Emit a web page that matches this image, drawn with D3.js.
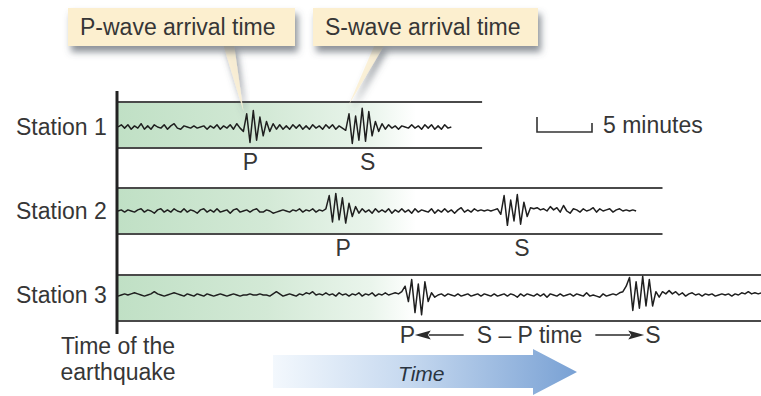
<!DOCTYPE html>
<html>
<head>
<meta charset="utf-8">
<script src="https://cdn.jsdelivr.net/npm/d3@7"></script>
<style>
  html, body { margin: 0; padding: 0; background: #fff; }
  svg { display: block; font-family: "Liberation Sans", Arial, sans-serif; }
</style>
</head>
<body>
<svg id="chart" width="761" height="396"></svg>
<script>
// ---- Data -------------------------------------------------------------
const stationNames = ["Station 1", "Station 2", "Station 3"];

// Minutes between consecutive seismogram samples
const minutesPerSample = 0.3;

// Ground-motion amplitude samples (relative units, positive = up)
const station1Trace = [
  0, 2, -1, 2, -2, 1, -1, 3, -2, 1, -2, 2, 0, -1, 2, -2, 1, 3, -1, -2,
  1, 0, -1, 1, -1, 0, 1, -2, 1, -1, 2, -2, 1, -1, 2, -2, 3, -1,
  -4, 12, -14, 15, -12, 9, -8, 5, -4,
  3, -2, 2, -2, 1, -2, 2, -1, 2, -2, 1, -2, 2, -1, 1, -2, 2, -1, 2, -2, 1, -1,
  -3, 12, -15, 10, -12, 17, -13, 14, -8, 5,
  -4, 3, -2, 2, -1, 1, -2, 1, 0, -1, 2, -1, 1, -2, 2, -1, 2, -2, 1, -2, 2, -1, 0
];

const station2Trace = [
  0, 1, -1, 1, 0, -1, 1, 2, -1, 1, 0, -2, 1, 2, -1, 1,
  -1, 2, 0, -1, 2, -1, 1, 0, -2, 1, 2, -1, 1, -1, 2, -1,
  0, 1, -2, 1, 2, -1, 0, 1, -1, 1, 2, -1, -1, 1, 0, -2,
  -1, 0, 1, 0, -1, 1, 0, 2, -1, 1, 0, 2, -1, 1, 0, 2,
  14, -10, 16, -8, 12, -11, 7, -5, 4,
  -2, 2, -1, 1, -2, 2, -1, 1, -1, 2, -2, 1, -1, 2, -1, 1,
  -2, 2, -1, 1, 0, -1, 2, -2, 1, -1, 2, -1, 1, -2, 1, 3,
  -1, 1, -1, 2, 0, 1, 0, 1, 0, 1, 2,
  -3, 14, -13, 10, -9, 15, -12, 8, -5,
  3, 2, 3, 1, 2, 0, 4, 1, 3, -1, 5, 0, -2, 2, 1, -1, 2, 0, 1, 3,
  -1, 2, 0, 1, 2, -1, 1, 2, 0, 1, 0, 1, 0
];

const station3Trace = [
  -1, 0, 1, 0, 1, 2, 1, 0, -1, 0, 1, 3, 1, 0, -1, 0, 1, 2, 1, 0,
  -1, 1, 0, -1, 1, 0, -1, 1, 0, -1, 0, 1, 0, -1, 0, 1, 0, -1, 0, 0,
  1, 0, 0, 1, 0, 0, -1, 1, 3, 1, -1, 0, 1, 0, -1, 1, 0, 2, 1, 3,
  0, 1, 0, 2, 0, 1, -1, 2, 0, 1, -1, 1, 0, 2, -1, 1, 0, 2, -1, 1,
  0, 2, 0, 1, 2, 1,
  3, 8, -6, 14, -16, 10, -18, 12, -6, 2,
  -2, 0, 1, -1, 1, 0, -1, 1, -1, 0, 1, -1, 0, 1, -1, 1, 0, -1, 1, -1,
  0, 1, -1, 1, 0, -2, 1, -1, 1, 0, -1, 1, -1, 1, -2, 1, 0, -1, 1, -1,
  0, 1, -1, 1, 0, -1, 2, -1, 0, -1, -2, 1, -1, 0, 1, 0, 2, 3,
  8, 16, -14, 12, -12, 17, -10, 14, -10, 3, -2,
  3, 1, 4, 1, 3, 0, 2, -1, 1, 2, 0, 1, -1, 1, 0, 1, -1, 0, 1, 0,
  1, -1, 1, 0, 2, 1, 3, 1, 2, 1, 2
];

// Arrival times after the earthquake (minutes)
const pArrivalMin = [11.4, 19.2, 25.8];
const sArrivalMin = [20.7, 34.8, 46.2];
// Length of each recording strip (minutes)
const stripLengthMin = [33.1, 49.5, 58.5];
const scaleBarMinutes = 5;

const traces = [station1Trace, station2Trace, station3Trace];

// ---- Layout -----------------------------------------------------------
const W = 761, H = 396;
const originX = 118;           // time of the earthquake
const stripTop = [102, 188, 275];
const stripHeight = 46;
const baselineOffset = [25, 23, 20];
const ampHalf = 22;            // px for |amp| = 20
const textColor = "#363636";
const fontSize = 23;

const svg = d3.select("#chart");
const defs = svg.append("defs");

const x = d3.scaleLinear().domain([0, 58.5]).range([originX, 761.5]);
const amp = d3.scaleLinear().domain([-20, 20]).range([ampHalf, -ampHalf]);

// Green fade behind the early part of each strip
const green = defs.append("linearGradient")
  .attr("id", "greenFade").attr("gradientUnits", "userSpaceOnUse")
  .attr("x1", originX).attr("x2", 416).attr("y1", 0).attr("y2", 0);
[[0, "#c0e0c5"], [0.5, "#d3e9d6"], [0.85, "#eaf5ec"], [1, "#ffffff"]]
  .forEach(([o, c]) => green.append("stop").attr("offset", o).attr("stop-color", c));

// Blue fade for the time arrow
const blue = defs.append("linearGradient")
  .attr("id", "blueFade").attr("x1", 0).attr("x2", 1).attr("y1", 0).attr("y2", 0);
[[0, "#f3f8fd"], [0.45, "#c5d8ef"], [1, "#79a1d4"]]
  .forEach(([o, c]) => blue.append("stop").attr("offset", o).attr("stop-color", c));

// Soft shadow for the callouts
const shadow = defs.append("filter").attr("id", "shadow")
  .attr("x", "-20%").attr("y", "-30%").attr("width", "150%").attr("height", "190%");
shadow.append("feDropShadow").attr("dx", 3).attr("dy", 6)
  .attr("stdDeviation", 3.5).attr("flood-color", "#505860").attr("flood-opacity", 0.65);

// ---- Strips -----------------------------------------------------------
const strips = svg.append("g");
stationNames.forEach((name, i) => {
  const g = strips.append("g");
  const top = stripTop[i], bot = top + stripHeight;
  const xEnd = x(stripLengthMin[i]);
  g.append("rect").attr("x", originX).attr("y", top)
    .attr("width", Math.min(416, xEnd) - originX).attr("height", stripHeight)
    .attr("fill", "url(#greenFade)");
  [top, bot].forEach(yy => g.append("line")
    .attr("x1", originX).attr("x2", xEnd).attr("y1", yy).attr("y2", yy)
    .attr("stroke", "#4a4a4a").attr("stroke-width", 1.8));
  g.append("text").attr("x", 16).attr("y", top + baselineOffset[i] + 8)
    .attr("font-size", fontSize).attr("fill", textColor).text(name);
});

// ---- Callouts ---------------------------------------------------------
const callouts = [
  { text: "P-wave arrival time", x0: 68, x1: 295, base: [223, 234], tip: [x(pArrivalMin[0]), 111] },
  { text: "S-wave arrival time", x0: 313, x1: 538, base: [375, 385], tip: [x(sArrivalMin[0]) + 3, 105] }
];
const cg = svg.append("g");
callouts.forEach(c => {
  cg.append("path")
    .attr("d", `M${c.base[0]},44 L${c.tip[0]},${c.tip[1]} L${c.base[1]},44 Z`)
    .attr("fill", "#fbf0d4").attr("fill-opacity", 0.9).attr("filter", "url(#shadow)");
});
callouts.forEach(c => {
  cg.append("rect").attr("x", c.x0).attr("y", 8).attr("width", c.x1 - c.x0).attr("height", 38)
    .attr("fill", "#fcefcf").attr("filter", "url(#shadow)");
  cg.append("text").attr("x", c.x0 + 12).attr("y", 35)
    .attr("font-size", fontSize).attr("fill", textColor).text(c.text);
});

// ---- Seismogram traces ------------------------------------------------
const tg = svg.append("g");
traces.forEach((tr, i) => {
  const y0 = stripTop[i] + baselineOffset[i];
  const line = d3.line()
    .x((d, k) => x(k * minutesPerSample))
    .y(d => y0 + amp(d));
  tg.append("path").attr("d", line(tr))
    .attr("fill", "none").attr("stroke", "#1f1f1f")
    .attr("stroke-width", 1.5).attr("stroke-linejoin", "round");
});

// Time-of-earthquake axis
svg.append("line").attr("x1", originX - 1).attr("x2", originX - 1)
  .attr("y1", 91).attr("y2", 334).attr("stroke", "#222").attr("stroke-width", 3);

// ---- P / S labels -----------------------------------------------------
const labelDx = { p: [7, 14], s: [22, 21] };
[0, 1].forEach(i => {
  const yy = stripTop[i] + stripHeight + 22;
  svg.append("text").attr("x", x(pArrivalMin[i]) + labelDx.p[i]).attr("y", yy)
    .attr("text-anchor", "middle").attr("font-size", fontSize).attr("fill", textColor).text("P");
  svg.append("text").attr("x", x(sArrivalMin[i]) + labelDx.s[i]).attr("y", yy)
    .attr("text-anchor", "middle").attr("font-size", fontSize).attr("fill", textColor).text("S");
});

// Station 3: S – P interval annotation
{
  const yy = stripTop[2] + stripHeight + 22;
  const ay = yy - 8;
  const pX = x(pArrivalMin[2]) - 2;
  const sX = x(sArrivalMin[2]) + 19;
  svg.append("text").attr("x", pX).attr("y", yy)
    .attr("font-size", fontSize).attr("fill", textColor).text("P");
  svg.append("text").attr("x", sX).attr("y", yy)
    .attr("font-size", fontSize).attr("fill", textColor).text("S");
  const leftTip = pX + 15, rightTip = sX - 1;
  const mid = (leftTip + rightTip) / 2;
  const label = svg.append("text").attr("x", mid).attr("y", yy)
    .attr("text-anchor", "middle").attr("font-size", fontSize).attr("fill", textColor)
    .text("S \u2013 P time");
  const half = label.node().getComputedTextLength() / 2;
  const gap = 13;
  const headLen = 16, headHalf = 4.5;
  svg.append("line").attr("x1", leftTip + headLen - 2).attr("x2", mid - half - gap)
    .attr("y1", ay).attr("y2", ay).attr("stroke", "#2a2a2a").attr("stroke-width", 1.6);
  svg.append("line").attr("x1", mid + half + gap).attr("x2", rightTip - headLen + 2)
    .attr("y1", ay).attr("y2", ay).attr("stroke", "#2a2a2a").attr("stroke-width", 1.6);
  svg.append("path")
    .attr("d", `M${leftTip},${ay} L${leftTip + headLen},${ay - headHalf} L${leftTip + headLen - 3},${ay} L${leftTip + headLen},${ay + headHalf} Z`)
    .attr("fill", "#2a2a2a");
  svg.append("path")
    .attr("d", `M${rightTip},${ay} L${rightTip - headLen},${ay - headHalf} L${rightTip - headLen + 3},${ay} L${rightTip - headLen},${ay + headHalf} Z`)
    .attr("fill", "#2a2a2a");
}

// ---- Scale bar --------------------------------------------------------
{
  const bx0 = 537, bx1 = bx0 + (x(scaleBarMinutes) - x(0));
  svg.append("path")
    .attr("d", `M${bx0},117 V132 H${bx1} V123`)
    .attr("fill", "none").attr("stroke", "#333").attr("stroke-width", 1.6);
  svg.append("text").attr("x", bx1 + 11).attr("y", 133)
    .attr("font-size", fontSize).attr("fill", textColor).text(`${scaleBarMinutes} minutes`);
}

// ---- Origin caption ---------------------------------------------------
svg.append("text").attr("x", originX).attr("y", 354).attr("text-anchor", "middle")
  .attr("font-size", fontSize).attr("fill", textColor).text("Time of the");
svg.append("text").attr("x", originX).attr("y", 380).attr("text-anchor", "middle")
  .attr("font-size", fontSize).attr("fill", textColor).text("earthquake");

// ---- Time arrow -------------------------------------------------------
svg.append("path")
  .attr("d", "M273,355 H533 V349 L577,372 L533,395 V388 H273 Z")
  .attr("fill", "url(#blueFade)");
svg.append("text").attr("x", 398).attr("y", 381)
  .attr("font-size", 21).attr("font-style", "italic").attr("fill", "#2a3440").text("Time");
</script>
</body>
</html>
